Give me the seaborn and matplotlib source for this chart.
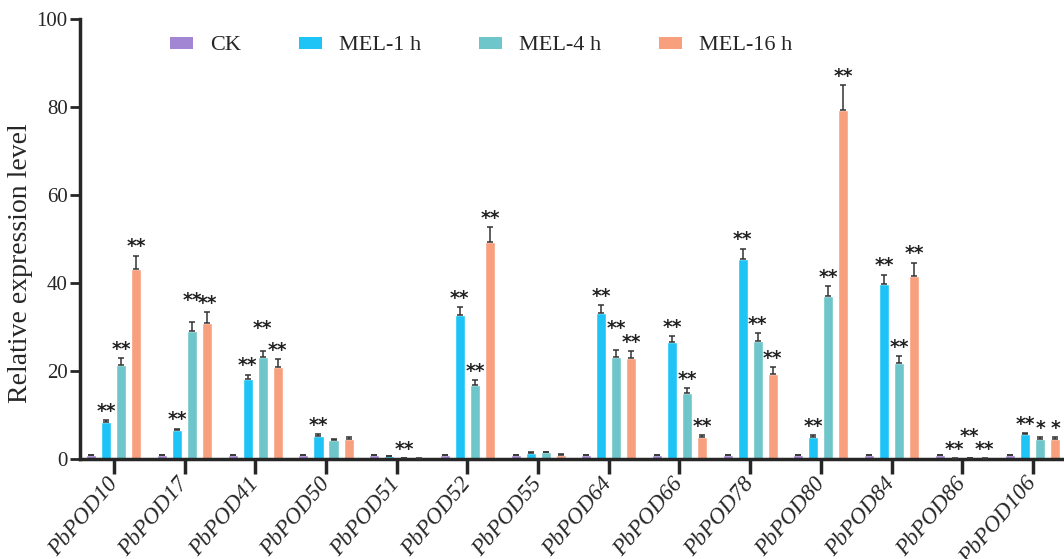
import numpy as np
import pandas as pd
import matplotlib
matplotlib.use("Agg")
import matplotlib.pyplot as plt
import seaborn as sns
from matplotlib.patches import Patch

genes = ["PbPOD10", "PbPOD17", "PbPOD41", "PbPOD50", "PbPOD51", "PbPOD52", "PbPOD55",
         "PbPOD64", "PbPOD66", "PbPOD78", "PbPOD80", "PbPOD84", "PbPOD86", "PbPOD106"]
series = ["CK", "MEL-1 h", "MEL-4 h", "MEL-16 h"]

ck = [0.8, 0.8, 0.8, 0.8, 0.8, 0.8, 0.8, 0.8, 0.8, 0.8, 0.8, 0.8, 0.8, 0.8]
mel1 = [8.3, 6.5, 18.2, 5.2, 0.6, 32.7, 1.4, 33.2, 26.6, 45.5, 5.1, 39.8, 0.1, 5.6]
mel4 = [21.4, 29.2, 23.1, 4.3, 0.2, 16.9, 1.5, 23.2, 15.1, 26.9, 37.0, 21.8, 0.15, 4.6]
mel16 = [43.2, 31.0, 21.0, 4.6, 0.1, 49.3, 1.0, 22.9, 5.0, 19.4, 79.3, 41.6, 0.1, 4.6]

ck_err = [0.1] * 14
mel1_err = [0.5, 0.4, 1.0, 0.4, 0.1, 1.8, 0.2, 1.7, 1.4, 2.3, 0.3, 2.1, 0.05, 0.3]
mel4_err = [1.5, 1.9, 1.5, 0.2, 0.05, 1.0, 0.2, 1.5, 1.0, 1.7, 2.3, 1.5, 0.05, 0.3]
mel16_err = [3.0, 2.3, 1.7, 0.4, 0.05, 3.4, 0.1, 1.6, 0.4, 1.5, 5.7, 3.0, 0.05, 0.3]

ck_sig = [""] * 14
mel1_sig = ["**", "**", "**", "**", "", "**", "", "**", "**", "**", "**", "**", "**", "**"]
mel4_sig = ["**", "**", "**", "", "**", "**", "", "**", "**", "**", "**", "**", "**", "*"]
mel16_sig = ["**", "**", "**", "", "", "**", "", "**", "**", "**", "**", "**", "**", "*"]

colors = ["#a386d3", "#1ec4f6", "#6fc6ca", "#f8a07e"]

values = [ck, mel1, mel4, mel16]
errs = [ck_err, mel1_err, mel4_err, mel16_err]
sigs = [ck_sig, mel1_sig, mel4_sig, mel16_sig]

df = pd.DataFrame({
    "gene": np.tile(genes, 4),
    "series": np.repeat(series, len(genes)),
    "value": np.concatenate(values),
})

sns.set_style("ticks")
plt.rcParams["font.family"] = ["Liberation Serif", "DejaVu Serif"]

fig = plt.figure(figsize=(10.64, 5.59), dpi=100)
ax = fig.add_axes([80 / 1064, 1 - 459 / 559, 984 / 1064, 440 / 559])

sns.barplot(data=df, x="gene", y="value", hue="series", order=genes, hue_order=series,
            palette=colors, width=0.85, gap=0.33, errorbar=None, ax=ax, legend=False,
            saturation=1)

bar_containers = list(ax.containers)

# error bars and significance marks
labels = {}
for j, cont in enumerate(bar_containers):
    for i, bar in enumerate(cont.patches):
        x = bar.get_x() + bar.get_width() / 2
        v = values[j][i]
        e = errs[j][i]
        ax.errorbar(x, v, yerr=[[0], [e]], fmt="none", ecolor="#333333",
                    elinewidth=1.1, capsize=2.5, capthick=1.1, zorder=3)
        if sigs[j][i]:
            labels[(i, j)] = [x, v + e + 2.0, sigs[j][i]]

# lift the MEL-4 h mark when it would collide with a neighbour's mark
for (i, j), lab in labels.items():
    if j == 2:
        for k in (1, 3):
            nb = labels.get((i, k))
            if nb and nb[2] == "**" and lab[2] == "**" and abs(nb[1] - lab[1]) < 2.5:
                lab[1] += 3.0
                break

for (i, j), (x, y, s) in labels.items():
    ax.text(x, y, s, ha="center", va="center", fontsize=13.5, color="#222222",
            family="DejaVu Sans", fontweight="bold")

ax.set_ylim(0, 100)
ax.set_xlim(-0.48, 13.44)
ax.set_yticks([0, 20, 40, 60, 80, 100])
ax.set_ylabel("Relative expression level", fontsize=20)
ax.yaxis.set_label_coords(-0.048, 0.445)
ax.set_xlabel("")
ax.tick_params(axis="y", labelsize=15, length=7, width=2, pad=2)
ax.tick_params(axis="x", length=11, width=2.5, pad=4)
ax.set_xticks(range(len(genes)))
ax.set_xticklabels(genes, rotation=50, ha="right", va="center", rotation_mode="anchor",
                   fontsize=16.5, style="italic")
for sp in ["top", "right"]:
    ax.spines[sp].set_visible(False)
for sp in ["left", "bottom"]:
    ax.spines[sp].set_linewidth(2.5)

handles = [Patch(facecolor=c, edgecolor="none") for c in colors]
fig.legend(handles, series, loc="center left", bbox_to_anchor=(150 / 1064, 1 - 46 / 559),
           ncol=4, frameon=False, fontsize=16, handlelength=1.05, handleheight=0.45,
           handletextpad=0.75, columnspacing=2.6)

fig.savefig("out.png", dpi=100)
